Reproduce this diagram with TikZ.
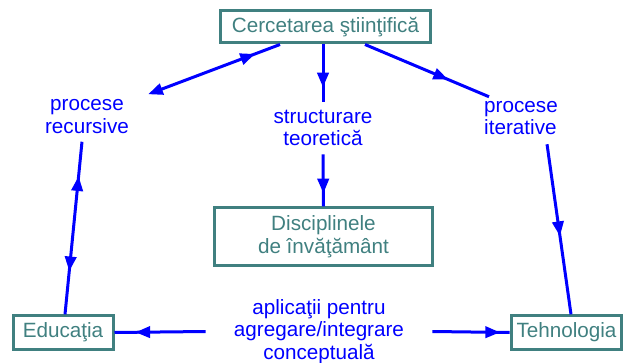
\documentclass[tikz,border=0pt]{standalone}
\usepackage{fontspec}
\setmainfont{Liberation Sans}
\usetikzlibrary{arrows.meta,calc,decorations.markings}
\definecolor{verdeinchis}{RGB}{64,128,128}
\definecolor{albastru}{RGB}{0,0,255}
\tikzset{
  caseta/.style={draw=verdeinchis, text=verdeinchis, line width=2.25pt, inner sep=0pt, align=center},
  eticheta/.style={text=albastru, align=center, inner sep=0pt},
  legatura/.style={draw=albastru, line width=2.25pt},
  varf/.style={postaction={decorate,decoration={markings,mark=at position #1 with {\arrow{>}}}}},
  varfinapoi/.style={postaction={decorate,decoration={markings,mark=at position #1 with {\arrowreversed{>}}}}}
}
\begin{document}
\begin{tikzpicture}[x=0.75pt, y=-0.75pt, >={Triangle[length=11pt,width=8.5pt]},
    every node/.style={font=\fontsize{15.5pt}{17pt}\selectfont}]
  \useasboundingbox (0,0) rectangle (624,363);
  \node [caseta, minimum width=157pt, minimum height=24pt] (cerc) at (325.5,27) {Cercetarea ştiinţifică};
  \node [caseta, minimum width=163pt, minimum height=43pt] (disc) at (323.5,236.5) {Disciplinele\\de învăţământ};
  \node [caseta, minimum width=75pt, minimum height=25pt] (edu) at (63,332.5) {Educaţia};
  \node [caseta, minimum width=83pt, minimum height=25pt] (tehn) at (566.5,332.5) {Tehnologia};
  \node [eticheta] (rec) at (87,116.5) {procese\\recursive};
  \node [eticheta, inner ysep=6pt] (str) at (323,128) {structurare\\teoretică};
  \node [eticheta, align=left] (iter) at (521,118) {procese\\iterative};
  \node [eticheta, inner xsep=21pt] (apl) at (319,331.5) {aplicaţii pentru\\agregare/integrare\\conceptuală};
  \draw [legatura, ->, varfinapoi=0.19] ($(cerc.south)+(-45.5,0)$) -- ($(rec.north east)+(19,-5)$);
  \draw [legatura, varf=0.75] ($(cerc.south)+(-2.5,0)$) -- (str.north);
  \draw [legatura, varf=0.75] (str.south) -- (disc.north);
  \draw [legatura, varf=0.67] ($(cerc.south)+(39.5,0)$) -- ($(iter.north west)+(5,-4)$);
  \draw [legatura, varf=0.54] ($(iter.south east)+(-11,9)$) -- ($(tehn.north)+(4.5,0)$);
  \draw [legatura, varf=0.8, varfinapoi=0.25] ($(edu.north)+(2,0)$) -- ($(rec.south)+(-5,8)$);
  \draw [legatura, varf=0.77] (apl.west) -- (edu.east);
  \draw [legatura, varf=0.875] (apl.east) -- (tehn.west);
\end{tikzpicture}
\end{document}
